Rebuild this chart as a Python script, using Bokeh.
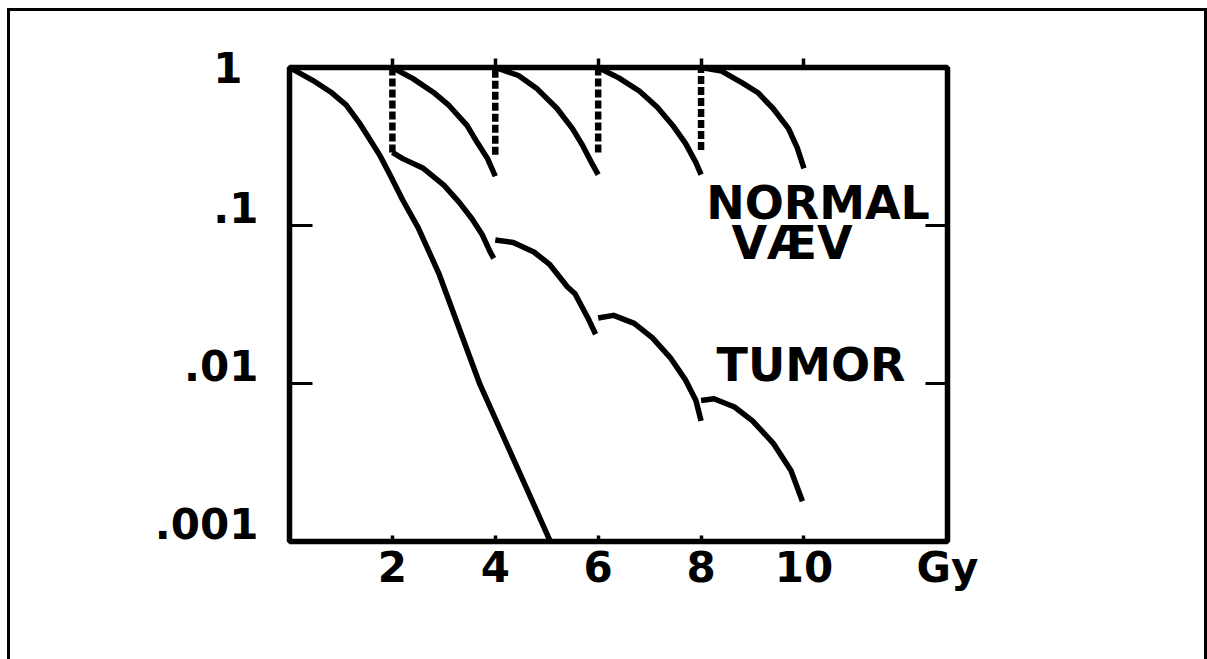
from bokeh.plotting import figure
from bokeh.models import Range1d, FixedTicker, LinearAxis, LogAxis, LogScale
from bokeh.core.properties import value
from bokeh.embed import file_html
from bokeh.resources import INLINE

# ---------------- data ----------------
# single-dose survival curve (dose in Gy, surviving fraction)
single_dose = [0.0, 0.45, 0.8, 1.1, 1.35, 1.55, 1.75, 1.95, 2.2, 2.5, 2.9, 3.7, 4.6, 5.07]
single_surv = [1.0, 0.83, 0.70, 0.58, 0.45, 0.355, 0.28, 0.21, 0.145, 0.097, 0.05, 0.0099, 0.0022, 0.001]

# normal tissue ("NORMAL VÆV") after each 2 Gy fraction
normal_dose = [
    [2.0, 2.4, 2.8, 3.1, 3.45, 3.65, 3.85, 4.0],
    [4.0, 4.45, 4.8, 5.2, 5.5, 5.7, 5.9, 6.0],
    [6.0, 6.4, 6.8, 7.15, 7.45, 7.7, 7.9, 8.0],
    [8.0, 8.4, 8.8, 9.1, 9.4, 9.7, 9.87, 10.0],
]
normal_surv = [
    [1.0, 0.85, 0.695, 0.575, 0.43, 0.335, 0.265, 0.205],
    [1.0, 0.89, 0.74, 0.55, 0.41, 0.32, 0.24, 0.21],
    [1.0, 0.86, 0.71, 0.56, 0.43, 0.33, 0.25, 0.21],
    [1.0, 0.95, 0.80, 0.695, 0.55, 0.41, 0.31, 0.23],
]

# tumour after each 2 Gy fraction
tumor_dose = [
    [2.0, 2.2, 2.6, 3.0, 3.3, 3.55, 3.75, 3.9, 3.97],
    [4.0, 4.35, 4.75, 5.05, 5.4, 5.55, 5.8, 5.95],
    [6.0, 6.3, 6.7, 7.05, 7.4, 7.7, 7.9, 8.0],
    [8.0, 8.25, 8.65, 9.0, 9.4, 9.75, 9.97],
]
tumor_surv = [
    [0.29, 0.265, 0.23, 0.18, 0.14, 0.11, 0.087, 0.068, 0.062],
    [0.081, 0.078, 0.068, 0.057, 0.041, 0.037, 0.026, 0.0205],
    [0.026, 0.027, 0.024, 0.0195, 0.0146, 0.0105, 0.0078, 0.0058],
    [0.0078, 0.0080, 0.0071, 0.0058, 0.0042, 0.0028, 0.0018],
]

# dashed recovery lines of the normal tissue between fractions
recovery_dose = [2, 4, 6, 8]
recovery_low = [0.29, 0.28, 0.29, 0.30]
recovery_high = [1.0, 1.0, 1.0, 1.0]

x_ticks = [2, 4, 6, 8, 10]
x_tick_labels = ["2", "4", "6", "8", "10"]
y_ticks = [1, 0.1, 0.01, 0.001]
y_tick_labels = ["1", ".1", ".01", ".001"]
x_unit = "Gy"

series_labels = ["NORMAL", "VÆV", "TUMOR"]
series_label_dose = [8.10, 8.59, 8.30]
series_label_surv = [0.138, 0.0775, 0.013]

X_MIN, X_MAX = 0.0, 12.79
Y_MIN, Y_MAX = 0.001, 1.0

# ---------------- figure ----------------
FONT = "DejaVu Sans"
p = figure(width=1194, height=648, output_backend="svg", toolbar_location=None,
           x_range=Range1d(X_MIN, X_MAX), y_range=Range1d(Y_MIN, Y_MAX),
           y_axis_type="log",
           min_border_left=279, min_border_right=263, min_border_top=56, min_border_bottom=121,
           background_fill_color="white", border_fill_color="white",
           outline_line_color="black", outline_line_width=5.5)
p.grid.visible = False
# outer frame of the picture (left, top and right edges)
p.styles = {"box-sizing": "content-box", "margin-left": "7px", "margin-top": "8px",
            "border-left": "3px solid black", "border-top": "3px solid black",
            "border-right": "3px solid black"}

LABEL_FONT = dict(major_label_text_font=FONT, major_label_text_font_size="42px",
                  major_label_text_font_style="bold", major_label_text_color="black")

# bottom axis: dose ticks plus the unit at the right-hand end
xa = p.xaxis[0]
xa.ticker = FixedTicker(ticks=x_ticks + [X_MAX])
overrides = {t: s for t, s in zip(x_ticks, x_tick_labels)}
overrides[X_MAX] = x_unit
xa.major_label_overrides = overrides
xa.axis_line_color = None
xa.major_tick_in = 6
xa.major_tick_out = 0
xa.major_tick_line_width = 3.5
xa.minor_tick_line_color = None
xa.update(**LABEL_FONT)
xa.major_label_standoff = 1

# top axis (ticks only, pointing outward)
top = LinearAxis(ticker=FixedTicker(ticks=x_ticks), major_tick_in=0, major_tick_out=9,
                 major_tick_line_width=3.5, axis_line_color=None, minor_tick_line_color=None,
                 major_label_overrides={t: "" for t in x_ticks})
p.add_layout(top, "above")

# left axis: inward ticks and the top decade label "1"
ya = p.yaxis[0]
ya.ticker = FixedTicker(ticks=[1, 0.1, 0.01])
ya.major_label_overrides = {1: y_tick_labels[0], 0.1: "", 0.01: ""}
ya.axis_line_color = None
ya.major_tick_in = 23
ya.major_tick_out = 0
ya.major_tick_line_width = 3
ya.minor_tick_line_color = None
ya.update(**LABEL_FONT)
ya.major_label_standoff = 47

# remaining decade labels: lettered slightly above their tick marks, as in the original
LABEL_LIFT_DECADES = 0.114
lift = 10 ** (-LABEL_LIFT_DECADES)
p.extra_y_ranges = {"labels": Range1d(Y_MIN * lift, Y_MAX * lift)}
p.extra_y_scales = {"labels": LogScale()}
la = LogAxis(y_range_name="labels", ticker=FixedTicker(ticks=y_ticks[1:]),
             major_label_overrides={t: s for t, s in zip(y_ticks[1:], y_tick_labels[1:])},
             axis_line_color=None, major_tick_line_color=None, minor_tick_line_color=None,
             major_tick_in=0, major_tick_out=0, major_label_standoff=-48, **LABEL_FONT)
p.add_layout(la, "left")

# right axis (ticks only)
ra = LogAxis(ticker=FixedTicker(ticks=[0.1, 0.01]), major_tick_in=22, major_tick_out=0,
             major_tick_line_width=3, axis_line_color=None, minor_tick_line_color=None,
             major_label_overrides={0.1: "", 0.01: ""})
p.add_layout(ra, "right")

# curves
p.line(single_dose, single_surv, line_width=5.5, line_color="black", line_join="round")
p.multi_line(normal_dose, normal_surv, line_width=5.5, line_color="black", line_join="round")
p.multi_line(tumor_dose, tumor_surv, line_width=5.5, line_color="black", line_join="round")
p.segment(x0=recovery_dose, y0=recovery_low, x1=recovery_dose, y1=recovery_high,
          line_width=6.5, line_color="black", line_dash="8 3")

# series labels (inside the frame)
p.text(x=series_label_dose, y=series_label_surv, text=series_labels,
       text_font=value(FONT), text_font_size="46px", text_font_style="bold",
       text_color="black", text_align="left", text_baseline="middle")

open("out.html", "w").write(file_html(p, INLINE))
